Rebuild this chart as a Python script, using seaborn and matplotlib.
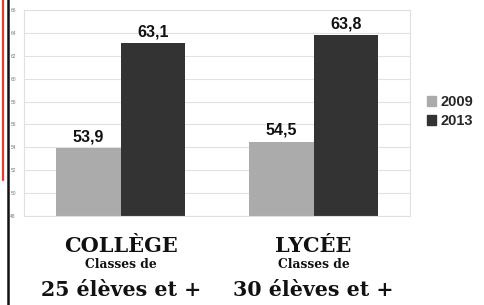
import matplotlib.pyplot as plt
import matplotlib.lines as mlines
import matplotlib.patches as mpatches
import pandas as pd
import seaborn as sns

categories = ["COLLÈGE", "LYCÉE"]
years = ["2009", "2013"]
values_2009 = [53.9, 54.5]
values_2013 = [63.1, 63.8]
sublabels = ["25 élèves et +", "30 élèves et +"]
colors = ["#ababab", "#333333"]

df = pd.DataFrame({
    "cat": categories * 2,
    "year": [years[0]] * 2 + [years[1]] * 2,
    "val": values_2009 + values_2013,
})

sns.set_style("white")
plt.rcParams['font.family'] = ['Liberation Sans', 'DejaVu Sans']

fig = plt.figure(figsize=(4.84, 3.05), dpi=100)
ax = fig.add_axes([0.05, 0.292, 0.797, 0.675])

sns.barplot(data=df, x="cat", y="val", hue="year", palette=colors,
            width=0.667, ax=ax, legend=False, saturation=1, zorder=2, linewidth=0)

ax.set_ylim(48, 66)
ax.set_xlim(-0.5, 1.5)
ax.set_yticks(range(48, 67, 2))
ax.tick_params(axis='y', labelsize=3.5, labelcolor="#777777", length=0, pad=6)
ax.set_xticks([])
ax.set_xlabel("")
ax.set_ylabel("")
ax.yaxis.grid(True, color="#e2e2e2", linewidth=0.8, zorder=0)
for s in ax.spines.values():
    s.set_color("#e0e0e0")
    s.set_linewidth(0.8)

for cont in ax.containers:
    ax.bar_label(cont, labels=[f"{v:.1f}".replace(".", ",") for v in cont.datavalues],
                 fontsize=11.5, fontweight="bold", padding=3, color="#111111")

# category labels below the axes
for i, (c, s) in enumerate(zip(categories, sublabels)):
    x = ax.transData.transform((i, 0))[0] / fig.bbox.width
    fig.text(x, 0.192, c, ha="center", va="center", fontsize=15, fontweight="bold",
             family=["DejaVu Serif"], color="#111111")
    fig.text(x, 0.133, "Classes de", ha="center", va="center", fontsize=8.8, fontweight="bold",
             family=["DejaVu Serif"], color="#111111")
    fig.text(x, 0.05, s, ha="center", va="center", fontsize=14.8, fontweight="bold",
             family=["DejaVu Serif"], color="#111111")

handles = [mpatches.Patch(color=colors[0], label=years[0]),
           mpatches.Patch(color=colors[1], label=years[1])]
fig.legend(handles=handles, loc="center left", bbox_to_anchor=(0.87, 0.635), frameon=False,
           prop={"weight": "bold", "size": 10.5}, handlelength=0.65, handleheight=0.65,
           handletextpad=0.3, labelspacing=0.35, borderpad=0.2, borderaxespad=0.2)

fig.add_artist(mlines.Line2D([0.007, 0.007], [0.41, 1.0], color="#e8392b", linewidth=1.6))
fig.add_artist(mlines.Line2D([0.017, 0.017], [0.0, 1.0], color="#111111", linewidth=1.8))

fig.savefig("out.png", dpi=100)
